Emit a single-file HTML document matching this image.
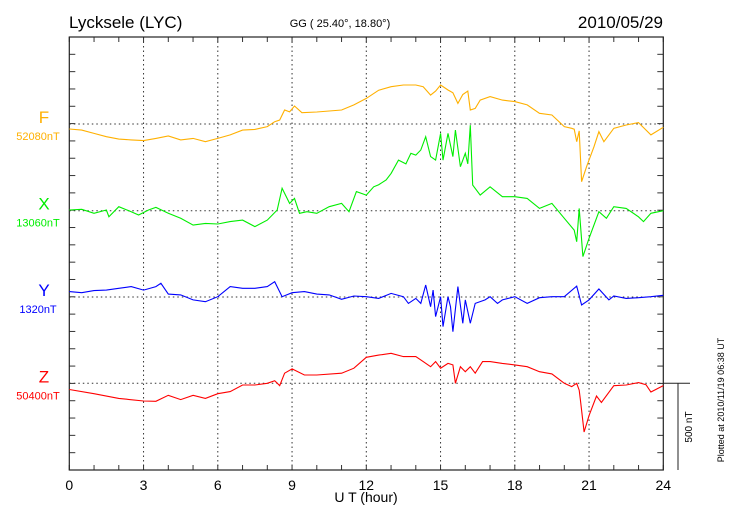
<!DOCTYPE html>
<html><head><meta charset="utf-8"><style>
body{margin:0;background:#fff;}
svg{display:block;font-family:"Liberation Sans",sans-serif;}
</style></head><body>
<svg id="c" width="730" height="520">
<text x="69" y="28" font-size="17">Lycksele (LYC)</text>
<text x="340" y="27" font-size="11" text-anchor="middle">GG ( 25.40°,  18.80°)</text>
<text x="663" y="28" font-size="17" text-anchor="end">2010/05/29</text>
<text x="366" y="502" font-size="14" text-anchor="middle">U T (hour)</text>
<text x="0" y="0" font-size="10" text-anchor="middle" transform="translate(692,427) rotate(-90)">500 nT</text>
<text x="0" y="0" font-size="9" text-anchor="middle" transform="translate(724,400) rotate(-90)">Plotted at 2010/11/19 06:38 UT</text>
<g id="g"></g>
</svg>
<script>
const ticksX=[0,3,6,9,12,15,18,21,24];
const compNames=["F","X","Y","Z"];
const baseLabels=["52080nT","13060nT","1320nT","50400nT"];
const colors=["#ffb000","#00ee00","#0000ff","#ff0000"];
const refY=[124,210.7,297,383.3];
const fT=[0,0.5,1,1.5,2,2.5,3,3.5,4,4.5,5,5.5,6,6.5,7,7.5,8,8.3,8.5,8.7,8.9,9.1,9.4,10,11,11.5,12,12.5,13,13.5,14,14.3,14.6,14.8,15,15.3,15.5,15.7,15.9,16.1,16.2,16.4,16.6,17,17.5,18,18.5,19,19.5,20,20.3,20.4,20.5,20.6,20.7,20.9,21.2,21.4,21.6,22,22.5,23,23.5,24];
const fV=[-29,-35,-54,-73,-87,-92,-96,-83,-69,-92,-83,-102,-83,-63,-35,-31,-15,13,23,81,70,104,65,69,81,110,148,195,215,225,225,215,167,190,225,196,180,119,170,190,81,90,138,158,138,129,110,62,52,-15,-25,-30,-102,-40,-333,-246,-131,-44,-102,-25,-6,8,-63,-19];
const xT=[0,0.5,1,1.5,1.6,2,2.5,2.8,3.2,3.5,4,4.5,5,5.5,6,6.5,7,7.5,8,8.4,8.6,8.9,9.1,9.3,9.6,10,10.5,11,11.3,11.6,12,12.3,12.5,12.8,13,13.3,13.6,13.8,14,14.2,14.4,14.6,14.8,15,15.1,15.3,15.5,15.6,15.8,16,16.1,16.2,16.3,16.6,17,17.5,18,18.5,19,19.5,20,20.4,20.5,20.6,20.75,21,21.4,21.7,22,22.5,23,23.2,23.5,24];
const xV=[4,8,-15,4,-35,23,-6,-25,4,19,-15,-44,-83,-73,-77,-63,-54,-92,-54,4,129,42,71,-15,-6,-15,23,42,-6,110,90,138,150,177,215,292,270,331,321,350,427,312,292,446,292,446,312,465,254,331,270,494,148,90,138,81,81,71,13,42,-44,-112,-179,13,-265,-160,-6,-44,23,13,-35,-63,-15,0];
const yT=[0,0.5,1,1.5,2,2.5,3,3.5,3.7,4,4.5,5,5.5,6,6.5,7,7.5,8,8.3,8.6,9,9.5,10,10.5,11,11.5,12,12.5,13,13.5,13.7,14,14.2,14.4,14.6,14.7,14.8,15,15.1,15.3,15.4,15.5,15.7,15.9,16,16.2,16.4,16.8,17,17.3,17.5,18,18.5,19,19.5,20,20.5,20.7,21,21.4,21.8,22,22.5,23,23.5,24];
const yV=[31,25,37,40,50,60,40,60,79,17,12,-17,-27,2,60,50,50,60,88,2,25,31,17,12,-13,6,2,-8,21,2,-37,-8,-37,69,-56,40,-113,2,-171,2,-56,-200,60,-152,-17,-152,-37,-17,2,-37,-17,2,-37,-4,2,2,63,-46,-17,46,-17,6,-8,-4,2,10];
const zT=[0,1,2,3,3.5,4,4.5,5,5.5,6,6.5,7,7.5,8,8.3,8.5,8.7,9,9.5,10,11,11.5,12,12.5,13,13.5,14,14.3,14.6,14.8,15,15.3,15.5,15.6,15.8,16,16.2,16.4,16.7,17,17.5,18,18.5,19,19.5,20,20.3,20.5,20.6,20.65,20.8,21,21.3,21.5,22,22.5,23,23.3,23.5,24];
const zV=[-36,-60,-87,-102,-104,-69,-94,-69,-87,-60,-48,-10,-10,0,15,-13,58,83,48,48,58,87,150,163,173,154,154,125,96,125,87,115,106,0,96,67,96,58,125,125,115,106,96,67,54,0,-19,0,-40,-96,-281,-187,-73,-110,-14,-10,4,-8,-50,-13];
const seriesT=[fT,xT,yT,zT], seriesV=[fV,xV,yV,zV];
const L=69.3,R=663.3,T=37,B=470,PX=0.1733;
function xs(t){return L+(R-L)*t/24;}
function ys(i,v){return refY[i]-v*PX;}
const g=document.getElementById('g');const NS="http://www.w3.org/2000/svg";
function mk(tag,at){const e=document.createElementNS(NS,tag);for(const k in at)e.setAttribute(k,at[k]);g.appendChild(e);return e;}
// grid
ticksX.slice(1,-1).forEach(t=>{const e=mk('line',{x1:xs(t),x2:xs(t),y1:T,y2:B,stroke:'#333','stroke-width':1,'stroke-dasharray':'1.5,3'});

});
refY.forEach((r,i)=>{const e=mk('line',{x1:L,x2:R,y1:r,y2:r,stroke:'#333','stroke-width':1,'stroke-dasharray':'1.5,3'});

});
// frame ticks
for(let k=0;k<=25;k++){const y=T+k*(B-T)/25;
mk('line',{x1:L,x2:L+6,y1:y,y2:y,stroke:'#333'});mk('line',{x1:R-6,x2:R,y1:y,y2:y,stroke:'#333'});}
for(let h=0;h<=24;h++){mk('line',{x1:xs(h),x2:xs(h),y1:T,y2:T+5,stroke:'#333'});mk('line',{x1:xs(h),x2:xs(h),y1:B,y2:B-5,stroke:'#333'});}
const fr=mk('rect',{x:L,y:T,width:R-L,height:B-T,fill:'none',stroke:'#222','stroke-width':1.2});


ticksX.forEach(t=>{const e=mk('text',{x:xs(t),y:490,'font-size':14,'text-anchor':'middle'});e.textContent=t;

});
// series
seriesT.forEach((ts,i)=>{const d=ts.map((t,j)=>(j?'L':'M')+xs(t).toFixed(1)+','+ys(i,seriesV[i][j]).toFixed(1)).join('');
const p=mk('path',{d:d,fill:'none',stroke:colors[i],'stroke-width':1.1});


const a=mk('text',{x:44,y:refY[i]-1,'font-size':17,'text-anchor':'middle',fill:colors[i]});a.textContent=compNames[i];


const b=mk('text',{x:38,y:refY[i]+16,'font-size':11,'text-anchor':'middle',fill:colors[i]});b.textContent=baseLabels[i];

});
// scale bar
mk('line',{x1:R,x2:690,y1:refY[3],y2:refY[3],stroke:'#222'});
const sb=mk('line',{x1:678,x2:678,y1:refY[3],y2:refY[3]+500*PX,stroke:'#222'});


</script>
</body></html>
